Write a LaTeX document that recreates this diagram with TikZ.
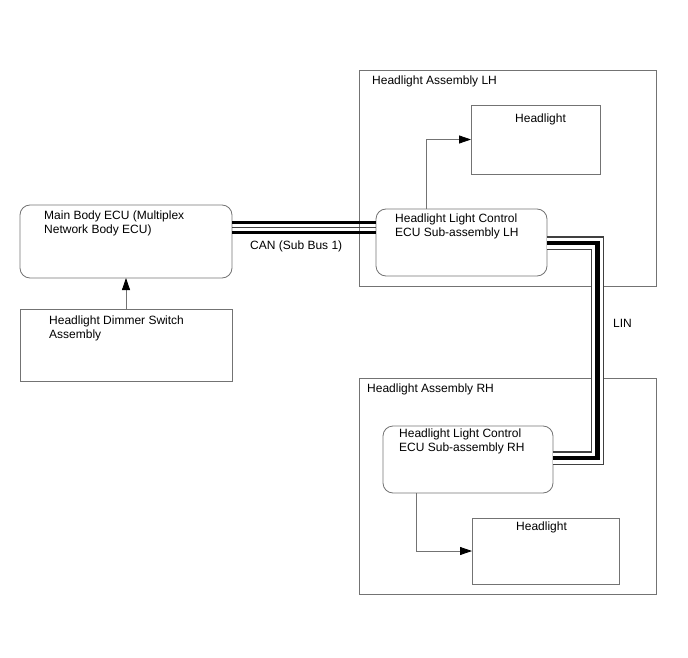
\documentclass[tikz,border=0pt]{standalone}
\usepackage{fontspec}
\setmainfont{Liberation Sans}
\usetikzlibrary{arrows.meta,calc}
\definecolor{ln}{gray}{0.45}
\definecolor{bl}{gray}{0.25}
\begin{document}
\begin{tikzpicture}[x=1pt,y=-1pt,
  box/.style={draw=ln, line width=0.8pt, anchor=north west, inner sep=0pt, outer sep=0pt},
  rbox/.style={box, rounded corners=10pt},
  txt/.style={anchor=north west, inner sep=0pt, align=left, font=\fontsize{12}{14}\selectfont},
  conn/.style={draw=ln, line width=0.8pt, -{Triangle[length=12pt,width=8pt,color=black]}},
  busA/.style={line width=3pt, black},
  busB/.style={line width=1.2pt, bl},
  busC/.style={line width=2.5pt, black}]
\useasboundingbox (0,0) rectangle (688,658);

% assemblies
\node[box, minimum width=297pt, minimum height=216pt] (asmL) at (359,70) {};
\node[txt] (asmLt) at (372,76) {Headlight Assembly LH};
\node[box, minimum width=297pt, minimum height=216pt] (asmR) at (359,378) {};
\node[txt] (asmRt) at (367,384) {Headlight Assembly RH};

% main ECU and dimmer
\node[rbox, minimum width=212pt, minimum height=73pt] (main) at (20,205) {};
\node[txt] (maint) at (44,211) {Main Body ECU (Multiplex\\Network Body ECU)};
\node[box, minimum width=212pt, minimum height=72pt] (dim) at (20,309) {};
\node[txt] (dimt) at (49,316) {Headlight Dimmer Switch\\Assembly};

% LH
\node[rbox, minimum width=171pt, minimum height=67pt] (ecuL) at (376,209) {};
\node[txt] (ecuLt) at (395,214) {Headlight Light Control\\ECU Sub-assembly LH};
\node[box, minimum width=129pt, minimum height=69pt] (hlL) at (471,105) {};
\node[txt] (hlLt) at (515,114) {Headlight};

% RH
\node[rbox, minimum width=170pt, minimum height=67pt] (ecuR) at (383,426) {};
\node[txt] (ecuRt) at (399,429) {Headlight Light Control\\ECU Sub-assembly RH};
\node[box, minimum width=147pt, minimum height=66pt] (hlR) at (472,518) {};
\node[txt] (hlRt) at (516,522) {Headlight};

% arrows
\draw[conn] (dim.north) -- (main.south);
\draw[conn] ($(ecuL.north west)+(50,0)$) coordinate (aL) |- (hlL.west);
\draw[conn] ($(ecuR.south west)+(33,0)$) coordinate (aR) |- (hlR.west);

% CAN bus
\draw[busA] ($(main.north east)+(0,17)$) coordinate (c1) -- (c1 -| ecuL.west);
\draw[busB] ($(main.north east)+(0,22.5)$) coordinate (c2) -- (c2 -| ecuL.west);
\draw[busC] ($(main.north east)+(0,27.5)$) coordinate (c3) -- (c3 -| ecuL.west);
\node[txt] (cant) at (250,241) {CAN (Sub Bus 1)};

% LIN bus
\coordinate (linx) at (597.5,350);
\coordinate (l1) at ($(ecuL.north east)+(0,34)$);
\coordinate (l2) at ($(ecuR.north east)+(0,32)$);
\draw[line width=13.5pt, bl, miter limit=10] (l1) -- (linx |- l1) -- (linx |- l2) -- (l2);
\draw[line width=11pt, white, miter limit=10] (l1) -- (linx |- l1) -- (linx |- l2) -- (l2);
\draw[line width=4.5pt, black, miter limit=10] (l1) -- (linx |- l1) -- (linx |- l2) -- (l2);
\node[txt] (lint) at (613,319) {LIN};
\end{tikzpicture}
\end{document}
